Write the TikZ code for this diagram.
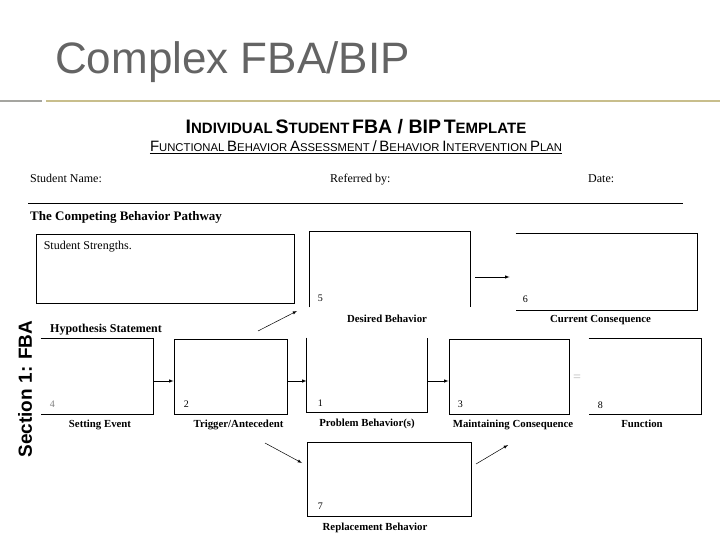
\documentclass[tikz,border=0pt]{standalone}
\usepackage{fontspec}
\setmainfont{Liberation Serif}
\newfontfamily\arialfont{Liberation Sans}
\usetikzlibrary{positioning,arrows.meta}

\definecolor{titlegray}{RGB}{100,100,100}
\definecolor{rulegray}{RGB}{165,165,160}
\definecolor{rulekhaki}{RGB}{200,190,140}

% fake small caps for the template heading
\newcommand{\hdsc}[2]{{\fontsize{19.5}{20}\selectfont #1}{\fontsize{15}{16}\selectfont #2}}
\newcommand{\subsc}[2]{{\fontsize{15}{16}\selectfont #1}{\fontsize{11.3}{12}\selectfont #2}}

\begin{document}
\begin{tikzpicture}[
    x=1pt, y=-1pt,
    >=latex,
    box/.style={rectangle,line width=0.8pt,inner sep=0pt},
    lbl/.style={font=\fontsize{10.8}{11}\selectfont\bfseries,inner sep=0pt},
    num/.style={font=\fontsize{10}{11}\selectfont,inner sep=0pt},
    info/.style={font=\fontsize{12}{13}\selectfont,inner sep=0pt,anchor=base west},
    arrow/.style={->,line width=0.6pt}
]
\useasboundingbox (0,0) rectangle (720,540);

% slide title
\node[font=\arialfont\fontsize{44}{44}\selectfont,text=titlegray,anchor=base west,inner sep=0pt] (title) at (55,74) {Complex FBA/BIP};
\draw[line width=2pt,rulegray] (0,101) -- (42,101);
\draw[line width=2pt,rulekhaki] (46,101) -- (720,101);

% template heading
\node[font=\arialfont\bfseries,anchor=base,inner sep=0pt] (head) at (356,134)
    {\hdsc{I}{NDIVIDUAL} \hdsc{S}{TUDENT} \hdsc{FBA / BIP}{} \hdsc{T}{EMPLATE}};
\node[font=\arialfont,anchor=base,inner sep=0pt] (sub) at (356,152)
    {\subsc{F}{UNCTIONAL} \subsc{B}{EHAVIOR} \subsc{A}{SSESSMENT} \subsc{/}{} \subsc{B}{EHAVIOR} \subsc{I}{NTERVENTION} \subsc{P}{LAN}};
\draw[line width=0.6pt] ([yshift=-1.5pt]sub.base west) -- ([yshift=-1.5pt]sub.base east);

\node[info] (name) at (30,183) {Student Name:};
\node[info] (ref) at (330,183) {Referred by:};
\node[info] (date) at (588,183) {Date:};
\draw[line width=0.8pt] (28,203) -- (683,203);
\node[info,font=\fontsize{13}{14}\selectfont\bfseries] (path) at (30,221) {The Competing Behavior Pathway};

% top row
\node[box,draw,minimum width=258pt,minimum height=69pt] (ss) at (165,268.5) {};
\node[num,font=\fontsize{12}{13}\selectfont,anchor=north west] (ssT) at ([xshift=8pt,yshift=-7pt]ss.north west) {Student Strengths.};
\node[box,minimum width=160pt,minimum height=75pt] (db) at (390,269.5) {};
\draw[line width=0.8pt] (db.south west) -- (db.north west) -- (db.north east) -- (db.south east);
\node[box,minimum width=181pt,minimum height=76pt] (cc) at (606.5,272) {};
\draw[line width=0.8pt] (cc.north west) -- (cc.north east) -- (cc.south east) -- (cc.south west);

% middle row
\node[font=\fontsize{12}{13}\selectfont\bfseries,inner sep=0pt,anchor=base west] (hyp) at (50,332) {Hypothesis Statement};
\node[box,minimum width=112pt,minimum height=75pt] (se) at (97,376.5) {};
\draw[line width=0.8pt] (se.north west) -- (se.north east) -- (se.south east) -- (se.south west);
\node[box,draw,minimum width=113pt,minimum height=75pt] (tr) at (230.5,376.5) {};
\node[box,minimum width=120pt,minimum height=74pt] (pb) at (367,375) {};
\draw[line width=0.8pt] (pb.north west) -- (pb.south west) -- (pb.south east) -- (pb.north east);
\node[box,draw,minimum width=120pt,minimum height=75pt] (mc) at (509,376.5) {};
\node[box,minimum width=112pt,minimum height=75pt] (fn) at (645,376.5) {};
\draw[line width=0.8pt] (fn.north west) -- (fn.north east) -- (fn.south east) -- (fn.south west);

% bottom row
\node[box,draw,minimum width=164pt,minimum height=74pt] (rb) at (389,479) {};

% numbers
\node[num,anchor=base west,text=gray] (n4) at ([xshift=9pt,yshift=7pt]se.south west) {4};
\node[num,anchor=base west] (n2) at ([xshift=10pt,yshift=7pt]tr.south west) {2};
\node[num,anchor=base west] (n1) at ([xshift=11pt,yshift=6pt]pb.south west) {1};
\node[num,anchor=base west] (n3) at ([xshift=9pt,yshift=7pt]mc.south west) {3};
\node[num,anchor=base west] (n8) at ([xshift=9pt,yshift=6pt]fn.south west) {8};
\node[num,anchor=base west] (n7) at ([xshift=11pt,yshift=7pt]rb.south west) {7};
\node[num,anchor=base west] (n5) at ([xshift=8pt,yshift=6pt]db.south west) {5};
\node[num,anchor=base west] (n6) at ([xshift=7pt,yshift=8pt]cc.south west) {6};

% box captions
\node[lbl,below=7pt of db,xshift=-3pt] (dbL) {Desired Behavior};
\node[lbl,below=5pt of cc,xshift=-6pt] (ccL) {Current Consequence};
\node[lbl,below=5pt of se,xshift=3pt] (seL) {Setting Event};
\node[lbl,below=5pt of tr,xshift=8pt] (trL) {Trigger/Antecedent};
\node[lbl,below=6pt of pb] (pbL) {Problem Behavior(s)};
\node[lbl,below=5pt of mc,xshift=4pt] (mcL) {Maintaining Consequence};
\node[lbl,below=5pt of fn,xshift=-3pt] (fnL) {Function};
\node[lbl,below=6pt of rb,xshift=-14pt] (rbL) {Replacement Behavior};

\node[text=gray!55,font=\fontsize{14}{14}\selectfont,inner sep=0pt] (eq) at (577,378) {=};

% section tag
\node[rotate=90,font=\arialfont\bfseries\fontsize{19}{19}\selectfont,inner sep=0pt] (sec) at (25,389) {Section 1: FBA};

% arrows
\coordinate (d1) at (258,331);
\coordinate (d2) at (297,311);
\coordinate (r1) at (265,443);
\coordinate (r2) at (302,463);
\coordinate (m1) at (476,464);
\coordinate (m2) at (508,445);
\draw[arrow,shorten <=5pt,shorten >=6pt] ([yshift=-7.5pt]db.east) -- ([yshift=-5pt]cc.west);
\draw[arrow] ([yshift=-4.5pt]se.east) -- ([yshift=-4.5pt]tr.west);
\draw[arrow] ([yshift=-4.5pt]tr.east) -- ([yshift=-6pt]pb.west);
\draw[arrow] ([yshift=-6pt]pb.east) -- ([yshift=-4.5pt]mc.west);
\draw[arrow,line width=0.5pt] (d1) -- (d2);
\draw[arrow,line width=0.5pt] (r1) -- (r2);
\draw[arrow,line width=0.5pt] (m1) -- (m2);

\end{tikzpicture}
\end{document}
